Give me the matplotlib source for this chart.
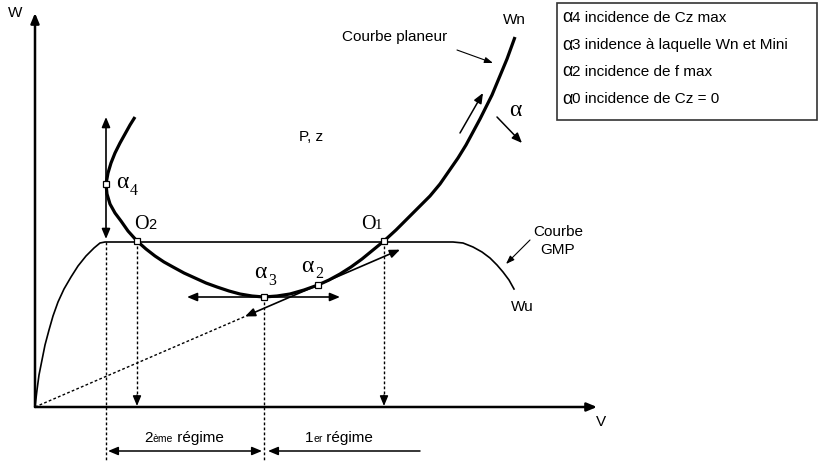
import matplotlib.pyplot as plt
from matplotlib.patches import Rectangle
from matplotlib.offsetbox import TextArea, HPacker, AnnotationBbox

# courbe planeur (polaire des vitesses) : V, W
v_planeur = [100, 95, 90, 85, 80, 76, 73, 71, 72, 75, 80, 86, 93, 102, 111, 120, 129,
             138, 149, 160, 171, 182, 194, 205, 217, 229, 242, 255, 269, 283, 294, 305,
             316, 327, 338, 349, 361, 373, 384, 395, 405, 414, 423, 431, 438, 445, 451,
             457, 462, 467, 472, 476, 480]
w_planeur = [290, 282, 273, 264, 254, 244, 234, 223, 213, 203, 194, 186, 176, 166, 158,
             151, 145, 140, 134, 129, 124, 120, 116, 113, 111, 110, 111, 113, 117, 122,
             127, 133, 140, 148, 157, 166, 177, 189, 200, 211, 223, 236, 249, 262, 275,
             288, 300, 312, 324, 336, 348, 359, 370]

# courbe GMP (puissance disponible) : V, W
v_gmp = [0, 2, 4, 7, 10, 14, 18, 23, 29, 36, 43, 51, 59, 65, 70,
         418, 428, 438, 447, 455, 462, 468, 474, 479]
w_gmp = [0, 17, 32, 47, 62, 77, 91, 105, 118, 130, 141, 151, 159, 164, 165,
         165, 164, 160, 155, 149, 142, 135, 127, 118]

# points remarquables
pts_nom = ['a4', 'O2', 'a3', 'a2', 'O1']
pts_v = [71, 102, 229, 283, 349]
pts_w = [223, 166, 110, 122, 166]

legende = ['4 incidence de Cz max',
           '3 inidence à laquelle Wn et Mini',
           '2 incidence de f max',
           '0 incidence de Cz = 0']

pts = dict(zip(pts_nom, zip(pts_v, pts_w)))

fig = plt.figure(figsize=(8.21, 4.62), dpi=100)
ax = fig.add_axes([0, 0, 1, 1])
ax.set_xlim(-35, 786)
ax.set_ylim(-55, 407)
ax.axis('off')

sans = 'Liberation Sans'
serif = 'Liberation Serif'


def fleche(x0, y0, x1, y1, lw=1.2, deux=False, hl=0.6, hw=0.25):
    style = '<|-|>' if deux else '-|>'
    ax.annotate('', xy=(x1, y1), xytext=(x0, y0),
                arrowprops=dict(arrowstyle=f'{style},head_length={hl},head_width={hw}',
                                color='black', lw=lw, shrinkA=0, shrinkB=0))


def pointille(x0, y0, x1, y1):
    ax.plot([x0, x1], [y0, y1], color='black', lw=1.0, ls=(0, (2, 1.6)))


# axes W et V
fleche(0, 0, 0, 394, lw=1.8)
fleche(0, 0, 562, 0, lw=1.8)
ax.text(-20, 394, 'W', family=sans, fontsize=11, ha='center', va='center')
ax.text(566, -15, 'V', family=sans, fontsize=11, ha='center', va='center')

# courbes
ax.plot(v_gmp, w_gmp, color='black', lw=1.2, solid_joinstyle='round')
ax.plot(v_planeur, w_planeur, color='black', lw=2.3, solid_capstyle='butt',
        solid_joinstyle='round')

# verticale de Cz max
fleche(pts['a4'][0], 168, pts['a4'][0], 290, lw=1.2, deux=True)
pointille(pts['a4'][0], 165, pts['a4'][0], -55)

# projections de O2, O1 sur l'axe des V
for p in ('O2', 'O1'):
    v, w = pts[p]
    pointille(v, w, v, 10)
    fleche(v, 12, v, 1, lw=1.0)

# verticale alpha3
pointille(pts['a3'][0], pts['a3'][1], pts['a3'][0], -55)

# tangente horizontale en alpha3
fleche(152, 110, 305, 110, lw=1.2, deux=True)

# tangente depuis l'origine en alpha2
pente = pts['a2'][1] / pts['a2'][0]
pointille(0, 0, 210, 210 * pente)
fleche(210, 210 * pente, 365, 365 * pente, lw=1.2, deux=True)

# points
ax.plot(pts_v, pts_w, ls='none', marker='s', ms=4.5, mfc='white', mec='black', mew=0.9, zorder=5)

# etiquettes des points
for nom, (v, w), (dv, dw) in [('4', pts['a4'], (10, 1)), ('3', pts['a3'], (-10, 24)),
                               ('2', pts['a2'], (-17, 19))]:
    ax.text(v + dv, w + dw, 'α', family=serif, fontsize=17, ha='left', va='center')
    ax.text(v + dv + 14, w + dw - 8, nom, family=serif, fontsize=11.5, ha='left', va='center')

ax.text(99, 178, 'O', family=serif, fontsize=14.5, ha='left', va='baseline')
ax.text(113, 178, '2', family=sans, fontsize=10.5, ha='left', va='baseline')
ax.text(326, 178, 'O', family=serif, fontsize=14.5, ha='left', va='baseline')
ax.text(340, 178, '1', family=serif, fontsize=10.5, ha='left', va='baseline')

# annotations
ax.text(307, 370, 'Courbe planeur', family=sans, fontsize=11, ha='left', va='center')
fleche(422, 357, 458, 344, lw=0.8, hl=0.5, hw=0.18)
ax.text(479, 387, 'Wn', family=sans, fontsize=11, ha='center', va='center')
fleche(425, 274, 448, 314, lw=1.1)
ax.text(480, 296, 'α', family=serif, fontsize=17, ha='center', va='center')
fleche(462, 290, 487, 264, lw=1.1)
ax.text(264, 270, 'P, z', family=sans, fontsize=11, ha='left', va='center')
ax.text(523, 175, 'Courbe', family=sans, fontsize=11, ha='center', va='center')
ax.text(523, 157, 'GMP', family=sans, fontsize=11, ha='center', va='center')
fleche(495, 167, 471, 143, lw=0.8, hl=0.5, hw=0.18)
ax.text(487, 100, 'Wu', family=sans, fontsize=11, ha='center', va='center')


# regimes de vol
def regime(v, chiffre, suffixe):
    boite = HPacker(children=[TextArea(chiffre, textprops=dict(family=sans, fontsize=11)),
                              TextArea(suffixe, textprops=dict(family=sans, fontsize=7.5)),
                              TextArea(' régime', textprops=dict(family=sans, fontsize=11))],
                    align='baseline', pad=0, sep=0)
    ax.add_artist(AnnotationBbox(boite, (v, -31), frameon=False, box_alignment=(0.5, 0.5)))


regime(149, '2', 'ème')
regime(304, '1', 'er')
fleche(73, -44, 227, -44, lw=1.1, deux=True)
fleche(385, -44, 233, -44, lw=1.1)

# legende des incidences
ax.add_patch(Rectangle((522, 287), 260, 117, fill=False, ec='#333333', lw=1.2))
for i, ligne in enumerate(legende):
    w = 389 - i * 27
    ax.text(527, w, 'α', family=sans, fontsize=13, ha='left', va='center')
    ax.text(537, w, ligne, family=sans, fontsize=11, ha='left', va='center')

fig.savefig('out.png', dpi=100)
